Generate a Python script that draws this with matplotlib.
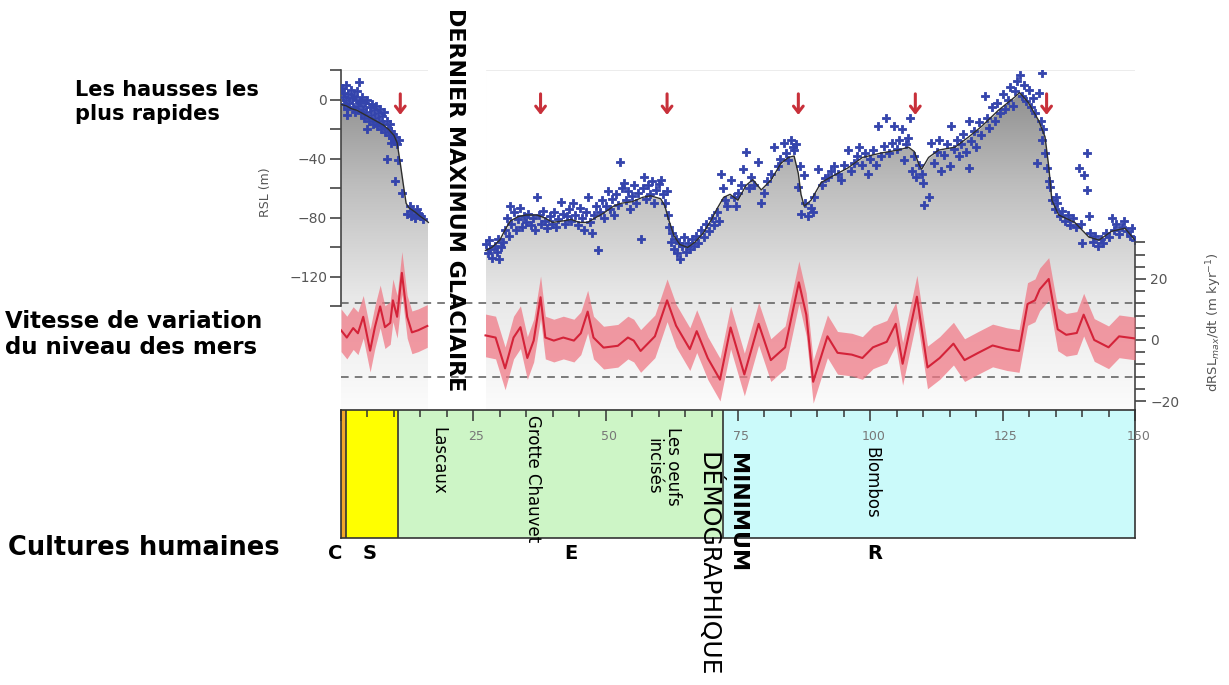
import numpy as np
import matplotlib.pyplot as plt
from matplotlib.colors import LinearSegmentedColormap
from matplotlib.ticker import MultipleLocator

# ---- data (kyr before present) ----
# RSL mean curve, two pieces (gap around the last glacial maximum)
rsl_k1 = [0, 1, 2, 3, 4, 5, 6, 7, 8, 9, 10, 10.6, 11.2, 11.8, 12.3, 12.8, 14, 15, 16, 16.5]
rsl_v1 = [-3, -4, -6, -7, -9, -11, -13, -15, -17, -20, -24, -29, -43, -58, -70, -73, -76, -79, -81.5, -83]

rsl_k2 = [27.3, 28.5, 30, 31, 32, 33.5, 35, 37, 38.5, 40, 42, 43.5, 45, 46.6, 48, 49.5, 51.5, 53,
          55, 57, 58.5, 60.4, 61.2, 61.8, 62.9, 64, 65.5, 67, 68.5, 70, 71, 72.3, 73.5, 75, 76.5,
          77.8, 79.4, 81.3, 83.1, 84.5, 85.6, 86.4, 86.9, 87.5, 88.8, 90.7, 93.2, 95.8, 98.5, 102,
          105.3, 107.2, 108.3, 109.2, 109.7, 111, 112.9, 116, 118.6, 121, 124.2, 127.3, 128.2,
          129.9, 131.8, 133, 133.7, 134.3, 135.6, 138.6, 141.3, 143.2, 145.6, 148.1, 150]
rsl_v2 = [-102, -100, -95, -88, -82, -79, -78, -78, -80, -83, -82, -81, -83, -83, -80, -77, -72, -70,
          -69, -66, -65, -67, -72, -80, -92, -98, -100, -96, -90, -81, -74, -66, -64, -68, -58,
          -54, -61, -54, -43, -39, -38, -50, -64, -72, -68, -56, -51, -46, -39, -36,
          -34, -32, -35, -44, -47, -39, -34, -32, -25, -18, -7, 2, 5,
          -2, -14, -25, -45, -68, -78, -83, -93, -95, -89, -87, -95]

# individual RSL observations
obs_k = [0.1, 0.3, 0.5, 0.6, 0.9, 1.0, 1.2, 1.4, 1.6, 1.8, 2.0, 2.2, 2.4, 2.6, 2.8, 3.0, 3.2, 3.4,
         3.6, 3.8, 4.0, 4.2, 4.4, 4.6, 4.8, 5.0, 5.2, 5.4, 5.6, 5.8, 6.0, 6.2, 6.4, 6.6, 6.8, 7.0,
         7.2, 7.4, 7.6, 7.8, 8.0, 8.2, 8.4, 8.6, 8.8, 9.0, 9.2, 9.4, 9.6, 9.8, 10.0, 10.2, 1.1,
         4.9, 8.7, 10.2, 10.8, 11.5, 12.5, 13.0, 13.5, 13.9, 14.3, 14.7, 15.1, 15.5, 14.0, 13.3,
         10.5, 10.9, 9.5,
         27.4, 27.8, 28.2, 28.6, 29.0, 29.4, 29.8, 30.2, 30.6, 28.0, 29.6,
         31.0, 31.4, 31.8, 32.2, 32.6, 33.0, 33.4, 33.8, 34.2, 34.6, 35.0, 32.0,
         35.4, 35.8, 36.2, 36.6, 37.1, 37.4, 37.8, 38.2, 38.6, 39.0, 39.4, 39.8, 40.2, 40.6,
         41.0, 41.5, 41.9, 42.3,
         42.7, 43.1, 43.5, 43.9, 44.3, 44.7, 45.1, 45.5, 45.9, 46.3, 46.6, 47.0, 47.4, 47.8,
         48.5, 48.2,
         48.9, 49.3, 49.7, 50.1, 50.4, 50.8, 51.2, 51.6, 52.0, 52.4, 52.8, 53.1, 53.4, 53.8,
         54.2, 54.6, 55.0, 55.3, 55.7, 56.1, 56.6, 57.0, 57.2, 57.6, 58.0, 58.4, 58.8, 59.2,
         59.6, 60.0, 60.4, 60.8,
         61.2, 61.5, 61.8, 62.0, 62.3, 62.6, 62.9, 63.2, 63.5, 63.8, 64.1, 64.4, 64.8, 65.1,
         65.5, 65.9, 66.3, 66.7, 67.1, 67.5, 68.0, 68.5, 69.0, 69.5, 70.0, 70.5, 71.0, 71.4,
         71.8, 72.2, 72.6, 73.0, 73.7, 74.2, 74.6, 75.0, 75.5, 75.9, 76.5, 77.0, 77.5, 78.1,
         78.8, 79.4, 80.0, 80.5, 81.3, 81.8, 82.5, 83.0, 83.7, 84.1, 84.5, 85.0, 85.3, 85.6,
         86.0, 86.4, 86.8, 87.5, 86.9, 87.6, 88.3, 88.8, 89.2, 89.4, 90.2, 90.8, 91.4, 92.0,
         92.5, 93.2, 93.8, 94.5, 95.1, 95.8, 96.4, 97.0, 97.5, 97.9, 98.5, 99.0, 99.5, 100.0,
         100.5, 101.0, 101.5, 102.0, 102.5, 103.0, 103.5, 104.0, 104.5, 105.0, 105.5, 106.0,
         106.4, 106.8, 107.2, 107.4, 107.8, 108.3, 108.7, 109.2, 109.7, 109.9, 110.2, 111.0,
         111.5, 112.0, 112.5, 112.9, 113.4, 114.0, 114.5, 115.0, 115.3, 115.8, 116.3, 116.7,
         117.2, 117.6, 118.1, 118.6, 118.6, 119.1, 119.6, 120.0, 120.5, 121.0, 121.6, 122.0,
         122.5, 123.0, 123.5, 124.0, 124.5, 125.0, 125.5, 126.0,
         126.4, 126.9, 127.3, 127.8, 128.2, 128.6, 129.0, 129.4, 129.9, 130.3, 130.8, 131.2,
         131.8, 132.4, 132.2, 132.6, 132.4, 131.4, 133.0, 133.3, 133.7, 134.0, 134.3, 134.8,
         135.3, 135.8, 136.3, 136.8, 137.3, 137.8, 138.3, 138.8, 139.4, 140.3, 140.9, 140.9,
         141.3, 140.0, 141.5, 142.0, 142.5, 143.0, 143.5, 144.0, 144.5, 145.0, 145.6, 146.0,
         146.5, 147.0, 147.5, 148.0, 148.5, 149.0, 149.5, 150.0, 139.8, 135.0]
obs_v = [8, 2, -3, 5, 10, 0, -6, 4, -2, 7, 1, -5, 3, -8, 0, 6, -4, 12,
         -1, -9, 2, -6, -12, -2, -8, 0, -14, -5, -10, -3, -16, -7, -12, -4, -18, -9,
         -14, -6, -20, -11, -16, -8, -22, -14, -19, -24, -16, -21, -26, -23, -28, -25, -10,
         -20, -40, -55, -41, -63, -77, -72, -75, -78, -74, -77, -79, -81, -80, -79,
         -30, -27, -29,
         -98, -104, -101, -107, -99, -103, -108, -100, -96, -95, -94,
         -88, -80, -92, -84, -76, -88, -81, -73, -86, -79, -83, -72,
         -77, -85, -80, -88, -66, -78, -84, -75, -82, -87, -79, -84, -76, -86,
         -81, -69, -77, -84,
         -79, -74, -82, -70, -78, -85, -73, -80, -88, -76, -66, -83, -90, -78,
         -102, -72,
         -76, -68, -80, -72, -62, -74, -67, -78, -64, -71, -42, -60, -56, -68,
         -62, -74, -65, -58, -70, -63, -94, -60, -52, -67, -58, -64, -55, -70,
         -61, -57, -54, -64,
         -70, -62, -78, -86, -96, -90, -101, -94, -104, -97, -108, -99, -93, -103,
         -97, -101, -94, -99, -92, -97, -88, -93, -84, -89, -80, -85, -76, -82,
         -50, -60, -68, -72, -54, -66, -72, -63, -58, -47, -35, -60, -52, -58,
         -42, -70, -63, -55, -50, -32, -45, -40, -29, -36, -41, -27, -32, -34,
         -30, -59, -45, -51, -77, -70, -79, -73, -76, -66, -47, -58, -53, -52,
         -48, -45, -50, -54, -44, -34, -48, -43, -38, -32, -44, -36, -50, -40,
         -34, -44, -18, -38, -31, -12, -36, -29, -18, -33, -27, -20,
         -41, -30, -26, -12, -48, -38, -52, -44, -50, -56, -71, -66,
         -29, -43, -35, -27, -48, -37, -30, -45, -18, -33, -27, -38,
         -30, -23, -35, -46, -14, -28, -21, -32, -15, -24, 3, -12,
         -19, -5, -14, -2, -9, 4, -6, 0,
         9, -4, 6, 13, 17, 3, 10, -1, 7, -5, 1, -9,
         5, 18, -14, -20, -27, -43, -36, -46, -55, -59, -68, -74,
         -70, -79, -75, -82, -78, -85, -80, -86, -46, -51, -36, -61,
         -79, -97, -90, -96, -92, -99, -94, -97, -90, -93, -80, -88,
         -84, -91, -86, -82, -89, -92, -87, -95, -84, -66]

# rate of sea-level change dRSLmax/dt (m/kyr)
rate_k1 = [0, 1.1, 2.3, 3.2, 4.2, 5.5, 6.4, 7.4, 8.3, 9.3, 9.8, 10.6, 11.5, 12.5, 13.4, 14.6, 16.3]
rate_v1 = [3.2, 0.8, 3.9, 2.2, 7.6, -3.5, 4.2, 11, 4.2, 5.6, 13, 7.6, 22, 7.6, 2.5, 3.2, 4.6]
rate_k2 = [27.3, 29.2, 31, 32.6, 33.9, 35.2, 36.4, 37.7, 38.6, 40.2, 42, 44, 45.3, 46.6, 47.7, 49.6,
           52.3, 54.2, 55.3, 56.6, 59.3, 61.6, 63.3, 65.9, 67.2, 69.3, 71.6, 73.6, 76.2, 78.9, 81.2,
           83.9, 86.5, 87.9, 89.2, 91.9, 93.8, 96.5, 98.5, 100.5, 103.1, 104.8, 106.1, 108.8, 110.8,
           113.1, 115.7, 117.8, 120.4, 123.1, 125.8, 128.1, 129.7, 131.1, 132, 133.7, 135.4, 137,
           139, 140.3, 142.3, 145, 147, 150]
rate_v2 = [1.5, 0.8, -9.3, 0.8, 4.2, -5.9, -0.2, 14, 0.8, -0.2, 0.8, -0.2, 2.2, 9.3, 0.8, -2.5,
           -1.9, 0.8, -0.2, -3.6, 1.2, 13, 4.7, -3, 2.9, -6, -13, 4.1, -11.3, 5.3, -6.6,
           -2.4, 18.9, 8.3, -13.7, 1.2, -4.2, -4.8, -5.9, -2.4, -0.6, 5.3, -7.8, 14.2, -9,
           -5.9, -1.2, -6.6, -4.2, -1.8, -3, -3.6, 11.8, 13, 16.6, 20, 3.5, 1.7,
           2.3, 8.3, 0, -2.4, 1.2, 0.5]
rate_err = 7          # half width of the pink band
rate_limit = 12       # dashed threshold lines

arrow_k = [11.2, 37.7, 61.6, 86.4, 108.5, 133.3]   # fastest rises

# human cultures (kyr)
cult_names = ['C', 'S', 'E', 'R']
cult_start = [0, 1.0, 10.8, 72.2]
cult_end = [1.0, 10.8, 72.2, 150]
cult_colors = ['#f2a72a', '#ffff00', '#cdf5c6', '#cbfafa']
cult_label_k = [-1.1, 5.5, 43.4, 100.8]

sites = ['Lascaux', 'Grotte Chauvet', 'Les oeufs\nincisés', 'Blombos']
site_k = [18.4, 36.2, 60.8, 100.2]
site_top = [0.87, 0.96, 0.87, 0.71]

box_ticks = [0, 25, 50, 75, 100, 125, 150]
rsl_ticks = [0, -40, -80, -120]
rsl_minor = [-140, -100, -60, -20, 20]
rate_ticks = [-20, 0, 20]
rate_minor = [-16, -12, -8, -4, 4, 8, 12, 16, 24, 28, 32]

# ---- figure ----
W, H = 1229, 685
fig = plt.figure(figsize=(W / 100, H / 100), dpi=100)
fig.patch.set_facecolor('white')


def fx(x):
    return x / W


def fy(y):
    return 1 - y / H


ax = fig.add_axes([fx(341), fy(410), 794 / W, 340 / H])
ax.set_xlim(0, 150)
ax.set_ylim(-210.2, 20.3)
ax.patch.set_alpha(0)

# grey gradient under the RSL curve
cmap = LinearSegmentedColormap.from_list('g', ['#858585', '#bdbdbd', '#e8e8e8', '#fcfcfc'])
ax.imshow(np.linspace(0, 1, 256).reshape(-1, 1), extent=(0, 150, -210.2, 20.3),
          aspect='auto', cmap=cmap, origin='upper', zorder=0)
ax.fill_between(rsl_k1, rsl_v1, 20.3, color='white', lw=0.5, zorder=1)
ax.fill_between(rsl_k2, rsl_v2, 20.3, color='white', lw=0.5, zorder=1)
ax.axvspan(rsl_k1[-1], rsl_k2[0], color='white', lw=0, zorder=1)

ax.scatter(obs_k, obs_v, marker='P', s=40, color='#3444ac', edgecolor='#3444ac',
           lw=0.6, zorder=4)
ax.plot(rsl_k1, rsl_v1, color='#2e2e2e', lw=1, zorder=5)
ax.plot(rsl_k2, rsl_v2, color='#2e2e2e', lw=1, zorder=5)

for k in arrow_k:
    ax.annotate('', xy=(k, -12), xytext=(k, 6),
                arrowprops=dict(arrowstyle='->,head_length=0.45,head_width=0.35',
                                color='#c8303a', lw=2.2), zorder=6)

for s in ['top', 'right', 'bottom']:
    ax.spines[s].set_visible(False)
ax.spines['left'].set_bounds(-140, 20)
ax.spines['left'].set_color('#444444')
ax.spines['left'].set_linewidth(1.2)
ax.set_xticks([])
ax.set_yticks(rsl_ticks)
ax.set_yticks(rsl_minor, minor=True)
ax.set_ylim(-210.2, 20.3)
ax.tick_params(axis='y', which='both', length=8, width=1.2, color='#444444',
               labelsize=10, labelcolor='#555555', pad=2)

# rate panel
axr = ax.twinx()
axr.set_ylim(-22.95, 88.5)
axr.set_xlim(0, 150)
for s in ['top', 'left', 'bottom']:
    axr.spines[s].set_visible(False)
axr.spines['right'].set_bounds(-23, 32)
axr.spines['right'].set_color('#444444')
axr.spines['right'].set_linewidth(1.2)
axr.set_yticks(rate_ticks)
axr.set_yticks(rate_minor, minor=True)
axr.set_ylim(-22.95, 88.5)
axr.tick_params(axis='y', which='major', length=8, width=1.2, color='#444444',
                labelsize=10, labelcolor='#555555', pad=3)
axr.tick_params(axis='y', which='minor', length=7, width=1.2, color='#444444')
axr.set_xticks([])

for lvl in [rate_limit, -rate_limit]:
    axr.axhline(lvl, color='#5a5a5a', lw=1.1, dashes=(5, 4), zorder=2)
for kk, vv in [(rate_k1, rate_v1), (rate_k2, rate_v2)]:
    vv = np.array(vv)
    axr.fill_between(kk, vv - rate_err, vv + rate_err, color='#f07683', alpha=0.72, lw=0, zorder=3)
    axr.plot(kk, vv, color='#d42339', lw=1.5, zorder=4)

# cultures box
axb = fig.add_axes([fx(341), fy(538), 794 / W, 128 / H])
axb.set_xlim(0, 150)
axb.set_ylim(0, 1)
for a, b, c in zip(cult_start, cult_end, cult_colors):
    axb.axvspan(a, b, color=c, lw=0)
for a in cult_start[1:]:
    axb.axvline(a, color='#333333', lw=1.2)
for s in axb.spines.values():
    s.set_color('#333333')
    s.set_linewidth(1.2)
axb.xaxis.tick_top()
axb.set_xticks(box_ticks)
axb.set_xticklabels([])
axb.xaxis.set_minor_locator(MultipleLocator(5))
axb.tick_params(axis='x', which='major', direction='in', length=8, width=1.1, color='#333333')
axb.tick_params(axis='x', which='minor', direction='in', length=5, width=1.1, color='#333333')
axb.set_yticks([])
for t in box_ticks[1:]:
    axb.text(t + 0.6, 0.79, str(t), ha='center', va='center', fontsize=9, color='#777777')

for name, k in zip(cult_names, cult_label_k):
    axb.text(k, -0.12, name, ha='center', va='center', fontsize=14, fontweight='bold')
for name, k, t in zip(sites, site_k, site_top):
    axb.text(k, t, name, ha='center', va='top', rotation=-90, fontsize=12, linespacing=1.1)

# annotations
bold = dict(fontweight='bold', color='black')
fig.text(fx(75), fy(90), 'Les hausses les', fontsize=15, va='center', **bold)
fig.text(fx(75), fy(114), 'plus rapides', fontsize=15, va='center', **bold)
fig.text(fx(5), fy(322), 'Vitesse de variation', fontsize=16.5, va='center', **bold)
fig.text(fx(5), fy(347), 'du niveau des mers', fontsize=16.5, va='center', **bold)
fig.text(fx(8), fy(548), 'Cultures humaines', fontsize=18.5, va='center', **bold)

fig.text(fx(455), fy(8), 'DERNIER MAXIMUM GLACIAIRE', rotation=-90, ha='center', va='top',
         fontsize=16, fontweight='bold')
fig.text(fx(737), fy(453), 'MINIMUM', rotation=-90, ha='center', va='top',
         fontsize=16, fontweight='heavy')
fig.text(fx(709), fy(452), 'DÉMOGRAPHIQUE', rotation=-90, ha='center', va='top', fontsize=18)

fig.text(fx(266), fy(192), 'RSL (m)', rotation=90, ha='center', va='center',
         fontsize=9, color='#555555')
fig.text(fx(1214), fy(322), r'dRSL$_{max}$/dt (m kyr$^{-1}$)', rotation=90, ha='center',
         va='center', fontsize=9.5, color='#555555')

fig.savefig('out.png', dpi=100, facecolor='white')
